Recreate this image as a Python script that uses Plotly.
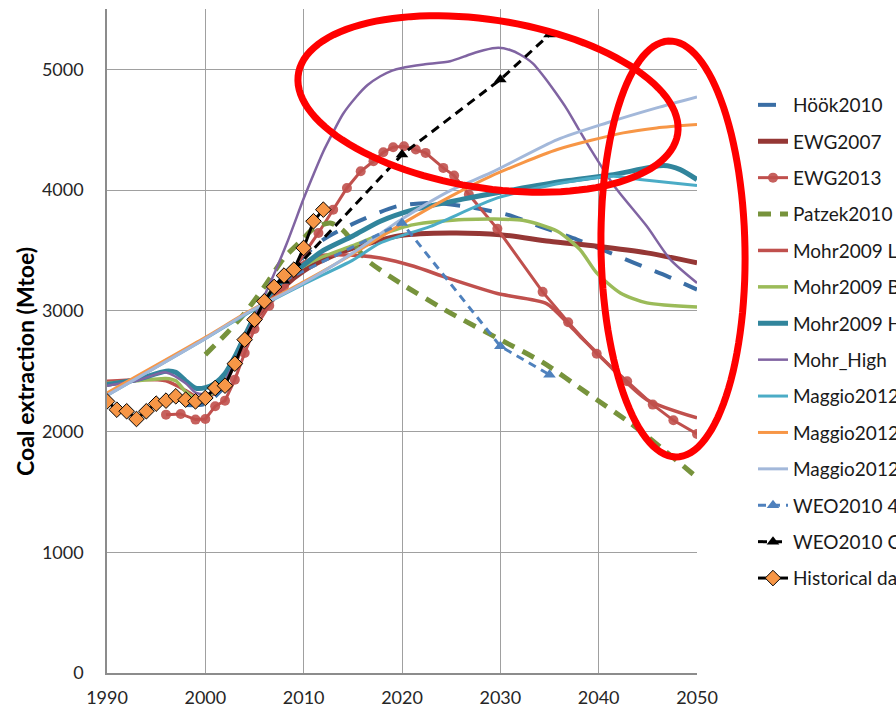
import numpy as np
import plotly.graph_objects as go

# ---------------- data (Mtoe) ----------------
hook_years = [1998, 2000, 2002, 2004, 2006, 2008, 2010, 2012, 2015, 2019.5, 2022.9, 2026, 2030.7, 2034, 2037.8, 2040.8, 2043.6, 2047, 2050]
hook_vals = [2220, 2230, 2380, 2760, 3080, 3290, 3450, 3590, 3720, 3866, 3894, 3870, 3797, 3700, 3590, 3493, 3397, 3286, 3176]

ewg2007_years = [2005, 2008, 2010, 2012, 2015, 2019.8, 2024.9, 2030, 2035, 2039.8, 2044.9, 2050]
ewg2007_vals = [2930, 3200, 3330, 3420, 3520, 3623, 3645, 3631, 3576, 3535, 3480, 3397]

ewg2013_years = [1996, 1997.5, 1999, 2000, 2001, 2002, 2003, 2004, 2005, 2006.5, 2008, 2010.2, 2011.5, 2013,
                 2014.4, 2015.8, 2017.1, 2018.1, 2019.1, 2020.2, 2021.4, 2022.4, 2024.2, 2025.3, 2026.8,
                 2029.7, 2034.3, 2036.9, 2039.8, 2042.9, 2045.5, 2047.6, 2050]
ewg2013_vals = [2140, 2146, 2099, 2104, 2209, 2256, 2430, 2651, 2850, 3043, 3203, 3493, 3645, 3838,
                4018, 4156, 4239, 4313, 4355, 4363, 4336, 4308, 4184, 4120, 3963,
                3679, 3157, 2905, 2645, 2416, 2223, 2093, 1980]

patzek_years = [2000, 2002.2, 2004, 2006, 2008, 2009.7, 2011, 2012.7, 2014.1, 2016.4, 2019.8, 2024.9, 2030, 2034.4, 2038.8, 2043.2, 2046.6, 2050]
patzek_vals = [2637, 2817, 2980, 3200, 3438, 3576, 3680, 3728, 3659, 3424, 3231, 2983, 2761, 2568, 2320, 2071, 1850, 1620]

mohr_low_years = [1990, 1993, 1996, 1998, 1999, 2000, 2001, 2002, 2003, 2004, 2005, 2006, 2008, 2010, 2012, 2015.8,
                  2017.8, 2021.2, 2024.6, 2029.7, 2034.7, 2036.8, 2038.1, 2039.5, 2041.5, 2044.9, 2050]
mohr_low_vals = [2416, 2430, 2420, 2340, 2290, 2280, 2320, 2400, 2560, 2740, 2900, 3040, 3260, 3400, 3460, 3457,
                 3438, 3369, 3273, 3143, 3060, 2900, 2789, 2678, 2513, 2264, 2113]

mohr_bg_years = [1990, 1993, 1996, 1997, 1998, 1999, 2000, 2001, 2002, 2003, 2004, 2005, 2006, 2008, 2010, 2012, 2015,
                 2017.8, 2021.2, 2026.3, 2032.4, 2035.8, 2038.1, 2039.8, 2042.2, 2044.9, 2050]
mohr_bg_vals = [2400, 2420, 2440, 2420, 2330, 2280, 2290, 2330, 2420, 2580, 2780, 2970, 3100, 3260, 3370, 3450, 3540,
                3630, 3714, 3756, 3748, 3659, 3507, 3314, 3148, 3066, 3032]

mohr_high_years = [1990, 1993, 1996, 1997, 1998, 1999, 2000, 2001, 2002, 2003, 2004, 2005, 2006, 2008, 2010, 2012, 2015,
                   2017.8, 2021.2, 2026.3, 2031.4, 2036.4, 2041.5, 2046.6, 2048.3, 2050]
mohr_high_vals = [2390, 2430, 2500, 2490, 2420, 2360, 2364, 2400, 2480, 2620, 2790, 2950, 3080, 3260, 3380, 3500, 3620,
                  3742, 3838, 3927, 4004, 4073, 4128, 4203, 4170, 4087]

mohr_hi2_years = [1990, 1993, 1996, 1998, 1999, 2000, 2001, 2002, 2003, 2004, 2005, 2006.3, 2008.3, 2010, 2011, 2012,
                  2013, 2014, 2015.4, 2016.5, 2017.8, 2019, 2020, 2022.2, 2024.9, 2026.9, 2028.3, 2029.8, 2031,
                  2032, 2033.3, 2034.4, 2035.6, 2036.8, 2038, 2039.2, 2041.6, 2044.9, 2047.3, 2050]
mohr_hi2_vals = [2380, 2420, 2490, 2400, 2322, 2310, 2330, 2420, 2580, 2760, 2950, 3176, 3562, 3930, 4130, 4320,
                 4480, 4630, 4777, 4870, 4943, 4990, 5012, 5040, 5067, 5123, 5158, 5178, 5160,
                 5123, 5050, 4943, 4810, 4667, 4500, 4336, 4032, 3700, 3424, 3231]

maggio_low_years = [1990, 2000, 2004.2, 2010, 2015, 2017.8, 2022.9, 2029.7, 2036.4, 2041.5, 2044.2, 2050]
maggio_low_vals = [2300, 2770, 2975, 3220, 3420, 3562, 3700, 3935, 4060, 4114, 4087, 4037]

maggio_bg_years = [1990, 2000, 2004.2, 2010, 2015, 2020, 2025, 2029, 2035.8, 2042.5, 2045.9, 2050]
maggio_bg_vals = [2320, 2780, 2985, 3240, 3470, 3720, 3950, 4114, 4336, 4474, 4515, 4543]

maggio_high_years = [1990, 2000, 2004.2, 2010, 2015, 2020, 2025, 2029, 2035.8, 2040.8, 2045.9, 2050]
maggio_high_vals = [2300, 2770, 2980, 3230, 3480, 3760, 4000, 4142, 4418, 4556, 4681, 4772]

weo450_years = [2008, 2020, 2030, 2035]
weo450_vals = [3250, 3728, 2706, 2471]

weocp_years = [2008, 2020, 2030, 2035]
weocp_vals = [3250, 4294, 4916, 5288]

hist_years = list(range(1990, 2013))
hist_vals = [2250, 2181, 2168, 2104, 2168, 2231, 2256, 2292, 2264, 2250, 2278, 2361, 2380,
             2562, 2761, 2927, 3079, 3198, 3292, 3341, 3521, 3742, 3838]

FONT = "Lato"

fig = go.Figure()


def add_line(name, xs, ys, color, width, dash="solid", smooth=True, marker=None, mode="lines"):
    kw = dict(x=xs, y=ys, name=name, mode=mode, legendgroup=name,
              line=dict(color=color, width=width, dash=dash,
                        shape="spline" if smooth else "linear",
                        smoothing=0.7 if smooth else None))
    if marker is not None:
        kw["marker"] = marker
    fig.add_trace(go.Scatter(**kw))


add_line("Höök2010", hook_years, hook_vals, "#3A6EA5", 4, dash="18px,14px")
add_line("EWG2007", ewg2007_years, ewg2007_vals, "#953735", 5)
add_line("EWG2013", ewg2013_years, ewg2013_vals, "#C0504D", 3, smooth=False, mode="lines+markers",
         marker=dict(symbol="circle", size=10, color="rgba(192,80,77,0.9)"))
add_line("Patzek2010", patzek_years, patzek_vals, "#77933C", 5, dash="13px,9px")
add_line("Mohr2009 Low", mohr_low_years, mohr_low_vals, "#C0504D", 3.5)
add_line("Mohr2009 BG", mohr_bg_years, mohr_bg_vals, "#9BBB59", 3.5)
add_line("Mohr2009 High", mohr_high_years, mohr_high_vals, "#31859C", 5)
add_line("Mohr_High", mohr_hi2_years, mohr_hi2_vals, "#8064A2", 2.5)
add_line("Maggio2012 low", maggio_low_years, maggio_low_vals, "#4BACC6", 3)
add_line("Maggio2012 BG", maggio_bg_years, maggio_bg_vals, "#F79646", 3)
add_line("Maggio2012 high", maggio_high_years, maggio_high_vals, "#A3B8DA", 3)
add_line("WEO2010 450", weo450_years, weo450_vals, "#4F81BD", 3, dash="8px,6px", smooth=False,
         mode="lines+markers", marker=dict(symbol="triangle-up", size=11, color="#4F81BD"))
add_line("WEO2010 Current Policies", weocp_years, weocp_vals, "#000000", 3, dash="9px,6px", smooth=False,
         mode="lines+markers", marker=dict(symbol="triangle-up", size=11, color="#000000"))
add_line("Historical data", hist_years, hist_vals, "#000000", 3, smooth=False, mode="lines+markers",
         marker=dict(symbol="diamond", size=12, color="#F79646", line=dict(color="#000000", width=1)))

# plot-area geometry in pixels (used for the hand-drawn ellipses and the axis title)
W, H = 896, 713
L, R, T, B = 107, 199, 9, 40
PW, PH = W - L - R, H - T - B


def to_paper(px, py):
    return (px - L) / PW, (H - B - py) / PH


def ellipse_path(cx, cy, a, b, deg):
    t = np.linspace(0, 2 * np.pi, 120)
    th = np.deg2rad(deg)
    xs = cx + a * np.cos(t) * np.cos(th) - b * np.sin(t) * np.sin(th)
    ys = cy + a * np.cos(t) * np.sin(th) + b * np.sin(t) * np.cos(th)
    pts = [to_paper(x, y) for x, y in zip(xs, ys)]
    return "M " + " L ".join(f"{x:.4f},{y:.4f}" for x, y in pts) + " Z"


shapes = [
    dict(type="path", xref="paper", yref="paper", path=ellipse_path(488, 104, 192, 84, 9),
         line=dict(color="#FF0000", width=7)),
    dict(type="path", xref="paper", yref="paper", path=ellipse_path(673, 249, 72, 208, -1),
         line=dict(color="#FF0000", width=7)),
]

tx, ty = to_paper(25, 362)

fig.update_layout(
    width=W, height=H,
    margin=dict(l=L, r=R, t=T, b=B, autoexpand=False),
    paper_bgcolor="white", plot_bgcolor="white",
    font=dict(family=FONT, color="#262626"),
    shapes=shapes,
    showlegend=True,
    legend=dict(x=to_paper(753, 0)[0], xanchor="left", y=to_paper(0, 86)[1], yanchor="top",
                font=dict(family=FONT, size=19, color="#1a1a1a"),
                tracegroupgap=8.7, bgcolor="rgba(0,0,0,0)"),
    annotations=[dict(text="<b>Coal extraction (Mtoe)</b>", xref="paper", yref="paper", x=tx, y=ty,
                      xanchor="center", yanchor="middle",
                      textangle=-90, showarrow=False, font=dict(family=FONT, size=23, color="#000000"))],
)

fig.update_xaxes(range=[1990, 2050], tickvals=[1990, 2000, 2010, 2020, 2030, 2040, 2050],
                 showgrid=True, gridcolor="#A0A0A0", gridwidth=1, zeroline=False,
                 showline=True, linecolor="#8C8C8C", linewidth=1.5, ticks="",
                 ticklabelstandoff=8, tickfont=dict(family=FONT, size=18, color="#262626"))
fig.update_yaxes(range=[0, 5500], tickvals=[0, 1000, 2000, 3000, 4000, 5000],
                 showgrid=True, gridcolor="#A0A0A0", gridwidth=1, zeroline=False,
                 showline=True, linecolor="#8C8C8C", linewidth=1.5, ticks="",
                 ticklabelstandoff=18, tickfont=dict(family=FONT, size=18, color="#262626"))

fig.write_html("out.html")
